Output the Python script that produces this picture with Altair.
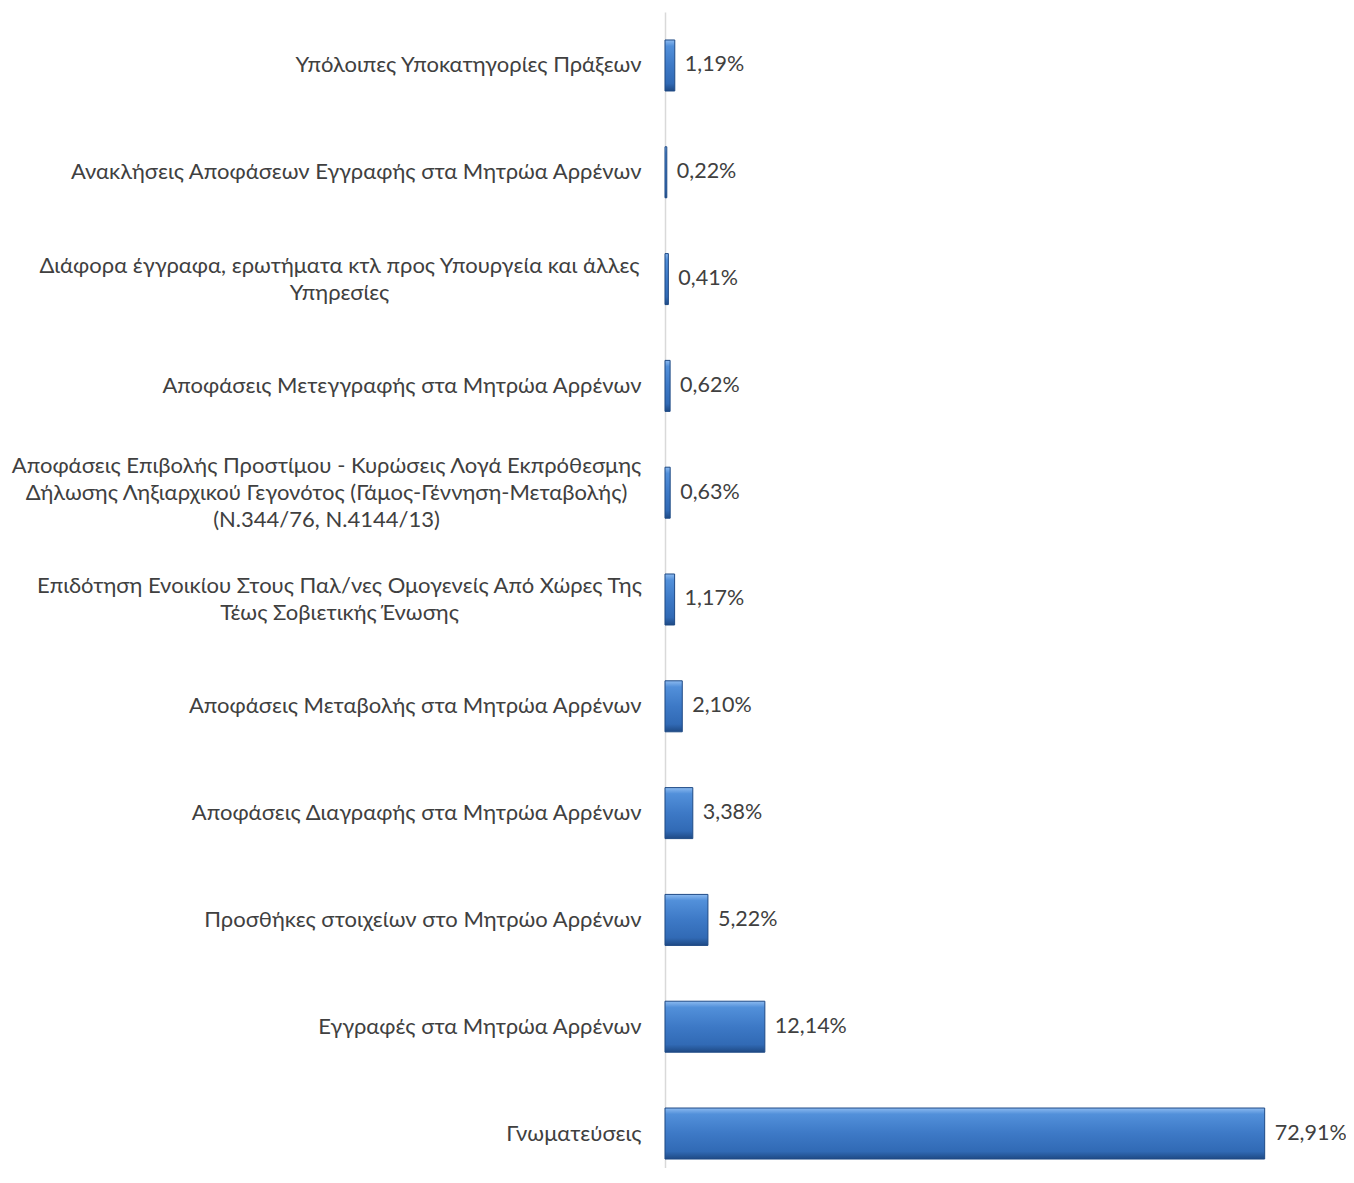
import altair as alt
import pandas as pd

categories = [
    "Υπόλοιπες Υποκατηγορίες Πράξεων",
    "Ανακλήσεις Αποφάσεων Εγγραφής στα Μητρώα Αρρένων",
    "Διάφορα έγγραφα, ερωτήματα κτλ προς Υπουργεία και άλλες\nΥπηρεσίες",
    "Αποφάσεις Μετεγγραφής στα Μητρώα Αρρένων",
    "Αποφάσεις  Επιβολής Προστίμου - Κυρώσεις Λογά Εκπρόθεσμης\nΔήλωσης Ληξιαρχικού Γεγονότος (Γάμος-Γέννηση-Μεταβολής)\n(Ν.344/76, Ν.4144/13)",
    "Επιδότηση Ενοικίου Στους Παλ/νες Ομογενείς Από Χώρες Της\nΤέως Σοβιετικής Ένωσης",
    "Αποφάσεις Μεταβολής στα Μητρώα Αρρένων",
    "Αποφάσεις Διαγραφής στα Μητρώα Αρρένων",
    "Προσθήκες στοιχείων στο Μητρώο Αρρένων",
    "Εγγραφές στα Μητρώα Αρρένων",
    "Γνωματεύσεις",
]
values = [1.19, 0.22, 0.41, 0.62, 0.63, 1.17, 2.10, 3.38, 5.22, 12.14, 72.91]
value_labels = [f"{v:.2f}".replace(".", ",") + "%" for v in values]

df = pd.DataFrame({"category": categories, "value": values, "label": value_labels})

FONT = "Lato"
TEXT = "#404040"
NLINES = "length(split(datum.label, '\\n'))"

y_enc = alt.Y(
    "category:N",
    sort=categories,
    title=None,
    scale=alt.Scale(paddingInner=0.5225, paddingOuter=0.173, align=0.757, round=False),
    axis=alt.Axis(
        domain=True,
        domainColor="#d9d9d9",
        domainWidth=1.5,
        ticks=False,
        labelFont=FONT,
        labelFontSize=22,
        labelColor=TEXT,
        labelLimit=700,
        labelLineHeight=27,
        labelExpr="split(datum.label, '\\n')",
        labelAlign={
            "condition": {"test": f"{NLINES} > 1", "value": "center"},
            "value": "right",
        },
        labelPadding={
            "condition": [
                {"test": f"{NLINES} == 3", "value": 339},
                {"test": f"{NLINES} == 2", "value": 326},
            ],
            "value": 24,
        },
        labelOffset={
            "condition": [
                {"test": f"{NLINES} == 3", "value": -27},
                {"test": f"{NLINES} == 2", "value": -13.5},
            ],
            "value": 0,
        },
    ),
)
x_enc = alt.X("value:Q", scale=alt.Scale(domain=[0, 80], nice=False), axis=None)

gradient = alt.Gradient(
    gradient="linear",
    x1=0, y1=0, x2=0, y2=1,
    stops=[
        alt.GradientStop(color="#8cbaf0", offset=0),
        alt.GradientStop(color="#5290da", offset=0.12),
        alt.GradientStop(color="#3d79c6", offset=0.5),
        alt.GradientStop(color="#316ab5", offset=0.85),
        alt.GradientStop(color="#1f4a85", offset=1),
    ],
)

bars = alt.Chart(df).mark_bar(
    fill=gradient, stroke="#1f4a85", strokeWidth=1
).encode(y=y_enc, x=x_enc)

texts = alt.Chart(df).mark_text(
    align="left", baseline="middle", dx=10, font=FONT, fontSize=21.5, color=TEXT
).encode(y=alt.Y("category:N", sort=categories), x=x_enc, text="label:N")

chart = (
    alt.layer(bars, texts)
    .properties(
        width=658,
        height=1156,
        background="white",
        autosize=alt.AutoSizeParams(type="none"),
        padding={"left": 657, "top": 4, "right": 23, "bottom": 0},
    )
    .configure_view(stroke=None)
)

chart.save("out.html", embed_options={"renderer": "svg", "actions": False})
